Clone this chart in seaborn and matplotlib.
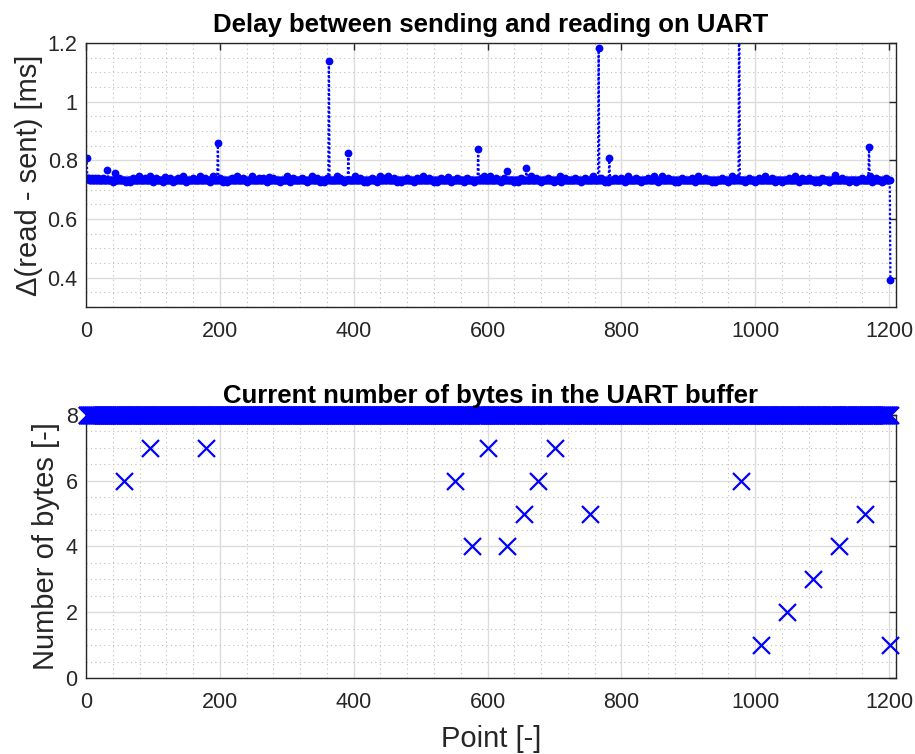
import matplotlib

matplotlib.use("Agg")
import matplotlib.pyplot as plt
from matplotlib.ticker import MultipleLocator, FuncFormatter
import numpy as np
import pandas as pd
import seaborn as sns

# --- data ------------------------------------------------------------------
n_points = 1202

# delay series: most samples sit on a flat band, the rest are listed here
delay_base = 0.732
delay_idx = [1, 32, 44, 197, 363, 392, 586, 629, 658, 766, 782, 976, 1170, 1202,
             79, 96, 118, 145, 170, 190, 226, 248, 273, 300, 337, 375, 402, 439,
             451, 504, 541, 595, 604, 665, 708, 758, 810, 849, 861, 915, 965,
             1014, 1059, 1119, 1171]
delay_val = [0.808, 0.766, 0.758, 0.859, 1.138, 0.826, 0.837, 0.762, 0.775, 1.184,
             0.808, 1.45, 0.845, 0.390,
             0.745, 0.747, 0.744, 0.748, 0.746, 0.745, 0.747, 0.745, 0.744, 0.748,
             0.746, 0.747, 0.745, 0.748, 0.747, 0.746, 0.744, 0.748, 0.745, 0.747,
             0.748, 0.746, 0.745, 0.746, 0.747, 0.745, 0.748, 0.747, 0.746, 0.749,
             0.747]
# small jitter around the band
jitter_hi = 0.739
jitter_hi_idx = [2, 3, 5, 9, 14, 18, 25, 50, 70, 88, 105, 125, 138, 160, 178, 200,
                 218, 235, 258, 265, 280, 310, 322, 345, 360, 380, 410, 428, 445,
                 460, 480, 495, 512, 530, 555, 570, 590, 612, 625, 650, 672, 690,
                 715, 730, 745, 770, 790, 800, 822, 840, 870, 890, 905, 925, 950,
                 972, 990, 1005, 1025, 1050, 1070, 1080, 1100, 1130, 1160, 1180,
                 1195]
jitter_lo = 0.725
jitter_lo_idx = [40, 60, 65, 100, 115, 130, 150, 185, 205, 210, 240, 270, 290, 305,
                 330, 350, 355, 385, 415, 420, 435, 465, 470, 490, 520, 525, 545,
                 565, 580, 620, 640, 645, 680, 700, 710, 740, 775, 780, 805, 830,
                 855, 880, 885, 910, 935, 940, 960, 985, 1000, 1030, 1040, 1065,
                 1090, 1095, 1110, 1140, 1150, 1175, 1190]

# buffer fill level: 8 bytes everywhere except these points
bytes_full = 8
bytes_idx = [57, 95, 179, 551, 577, 601, 629, 654, 676, 701, 753, 979, 1009,
             1048, 1087, 1125, 1164, 1202]
bytes_val = [6, 7, 7, 6, 4, 7, 4, 5, 6, 7, 5, 6, 1, 2, 3, 4, 5, 1]

point = np.arange(1, n_points + 1)
delay = pd.Series(delay_base, index=point)
delay.loc[jitter_hi_idx] = jitter_hi
delay.loc[jitter_lo_idx] = jitter_lo
delay.loc[delay_idx] = delay_val
nbytes = pd.Series(float(bytes_full), index=point)
nbytes.loc[bytes_idx] = bytes_val

df = pd.DataFrame({"point": point, "delay": delay.values, "nbytes": nbytes.values})

# --- style ------------------------------------------------------------------
sns.set_theme(style="white")
plt.rcParams["font.family"] = ["Liberation Sans", "DejaVu Sans"]

BLUE = "#0000ff"
EDGE = "#262626"


def matlab_axes(ax, xmax, ylim, ymajor, yminor):
    ax.set_xlim(0, xmax)
    ax.set_ylim(*ylim)
    ax.xaxis.set_major_locator(MultipleLocator(200))
    ax.xaxis.set_minor_locator(MultipleLocator(40))
    ax.yaxis.set_major_locator(MultipleLocator(ymajor))
    ax.yaxis.set_minor_locator(MultipleLocator(yminor))
    ax.yaxis.set_major_formatter(FuncFormatter(lambda v, p: f"{v:g}"))
    ax.grid(which="major", color="#dcdcdc", linewidth=1.0, linestyle="-")
    ax.grid(which="minor", color="#bdbdbd", linewidth=0.8, linestyle=(0, (1, 3)))
    ax.set_axisbelow(True)
    ax.tick_params(which="major", direction="in", length=5, width=1,
                   top=True, right=True, color=EDGE, labelsize=15.5,
                   labelcolor=EDGE)
    ax.tick_params(axis="x", which="major", pad=10)
    ax.tick_params(axis="y", which="major", pad=6)
    ax.tick_params(which="minor", length=0)
    for s in ax.spines.values():
        s.set_color(EDGE)
        s.set_linewidth(1.0)


fig = plt.figure(figsize=(9.15, 7.54), dpi=100)
ax1 = fig.add_axes([0.094, 0.593, 0.885, 0.350])
ax2 = fig.add_axes([0.094, 0.1008, 0.885, 0.3488])

# top: delay
sns.lineplot(data=df, x="point", y="delay", ax=ax1, color=BLUE,
             linestyle=(0, (1, 1)), linewidth=1.6, marker="o", markersize=5.6,
             markeredgewidth=0, markerfacecolor=BLUE)
matlab_axes(ax1, 1210, (0.3, 1.2), 0.2, 0.05)
ax1.set_title("Delay between sending and reading on UART", fontsize=18.5,
              fontweight="bold", color="black", pad=8)
ax1.set_xlabel("")
ax1.set_ylabel("\u0394(read - sent) [ms]", fontsize=21, color=EDGE, labelpad=3)

# bottom: buffer
sns.scatterplot(data=df, x="point", y="nbytes", ax=ax2, color=BLUE, marker="x",
                s=150, linewidth=1.6, clip_on=False, zorder=3)
matlab_axes(ax2, 1210, (0, 8), 2, 0.5)
ax2.set_title("Current number of bytes in the UART buffer", fontsize=18.5,
              fontweight="bold", color="black", pad=9)
ax2.set_xlabel("Point [-]", fontsize=21, color=EDGE, labelpad=9)
ax2.set_ylabel("Number of bytes [-]", fontsize=21, color=EDGE, labelpad=4)

fig.savefig("out.png", dpi=100)
